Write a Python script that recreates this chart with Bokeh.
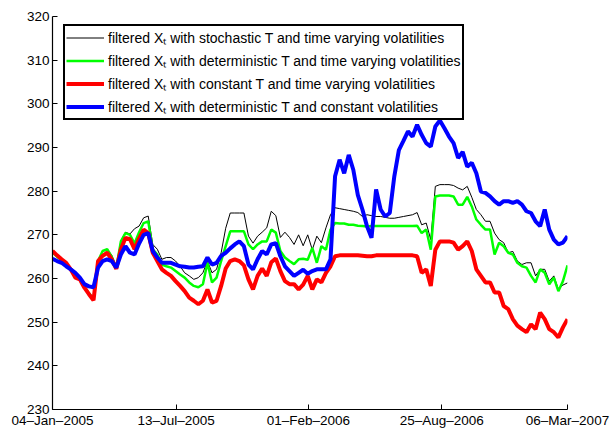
import pandas as pd
from bokeh.plotting import figure
from bokeh.models import Range1d, FixedTicker, Legend, LegendItem, ColumnDataSource
from bokeh.embed import file_html
from bokeh.resources import INLINE

# weekly observation dates (04-Jan-2005 .. 06-Mar-2007)
dates = pd.date_range("2005-01-04", periods=114, freq="7D")

tick_dates = ["2005-01-04", "2005-07-13", "2006-02-01", "2006-08-25", "2007-03-06"]
tick_labels = ["04–Jan–2005", "13–Jul–2005", "01–Feb–2006", "25–Aug–2006", "06–Mar–2007"]
y_ticks = [230, 240, 250, 260, 270, 280, 290, 300, 310, 320]

series_names = [
    "filtered Xₜ with stochastic T and time varying volatilities",
    "filtered Xₜ with deterministic T and time varying volatilities",
    "filtered Xₜ with constant T and time varying volatilities",
    "filtered Xₜ with deterministic T and constant volatilities",
]

stoch_tv = [
    266.0, 265.0, 264.2, 263.2, 262.0, 260.5, 260.0, 258.3, 256.8, 255.6,
    264.0, 266.3, 266.7, 265.3, 262.6, 268.6, 270.6, 270.2, 271.4, 272.0,
    273.9, 274.3, 267.8, 266.7, 264.4, 264.8, 264.8, 264.0, 262.8, 261.3,
    260.6, 259.8, 260.2, 261.3, 264.0, 261.3, 262.1, 265.9, 271.5, 275.0,
    275.0, 275.0, 275.0, 269.7, 268.1, 269.7, 270.6, 271.6, 275.4, 274.4,
    269.4, 270.6, 269.4, 267.8, 270.0, 267.5, 270.0, 266.6, 269.7, 268.2,
    271.6, 274.6, 276.2, 276.0, 275.8, 275.6, 275.4, 275.1, 274.2, 274.6,
    274.4, 274.2, 274.2, 274.0, 273.8, 273.8, 274.0, 274.2, 274.4, 274.6,
    275.1, 272.3, 272.7, 268.9, 281.1, 281.5, 281.5, 281.5, 281.3, 280.7,
    280.3, 281.1, 278.6, 275.8, 274.6, 273.1, 273.1, 270.4, 268.9, 268.2,
    265.9, 266.2, 264.0, 263.2, 263.6, 263.6, 260.6, 262.1, 262.1, 259.4,
    260.6, 257.5, 258.5, 259.0,
]

determ_tv = [
    266.0, 265.0, 264.2, 263.3, 262.0, 260.4, 259.9, 258.1, 256.6, 255.3,
    264.0, 266.3, 266.7, 265.0, 262.4, 268.5, 270.4, 270.0, 268.0, 270.6,
    272.7, 273.1, 266.7, 265.5, 263.2, 262.8, 262.5, 261.7, 260.9, 260.2,
    259.1, 258.3, 258.0, 258.7, 263.6, 259.1, 260.2, 264.0, 267.4, 270.8,
    270.8, 270.8, 270.8, 267.8, 266.7, 267.8, 268.5, 268.5, 271.2, 270.5,
    266.3, 264.8, 264.0, 263.3, 264.4, 264.5, 264.3, 267.0, 263.6, 267.4,
    266.6, 271.2, 272.7, 272.6, 272.6, 272.3, 272.3, 272.1, 272.0, 271.9,
    272.0, 272.0, 272.0, 272.0, 272.0, 272.0, 272.0, 272.0, 272.0, 272.0,
    272.1, 270.4, 271.2, 266.6, 278.8, 279.0, 279.0, 279.0, 278.8, 276.9,
    276.9, 278.7, 276.5, 273.5, 272.3, 271.2, 271.2, 265.5, 268.2, 267.4,
    265.9, 265.5, 263.6, 262.8, 262.5, 260.6, 259.1, 262.1, 261.3, 258.7,
    260.2, 257.1, 259.4, 263.0,
]

const_tv = [
    266.3, 265.3, 264.4, 263.6, 262.1, 260.2, 259.8, 257.9, 256.4, 255.0,
    264.0, 265.2, 265.9, 264.4, 262.2, 266.7, 269.3, 269.0, 266.7, 269.2,
    271.2, 270.4, 265.9, 264.0, 262.1, 261.3, 260.6, 259.4, 258.3, 257.1,
    255.6, 254.9, 254.1, 254.9, 257.5, 254.5, 254.9, 258.3, 262.3, 264.0,
    264.4, 264.0, 263.0, 259.8, 257.5, 260.6, 262.3, 260.6, 263.7, 264.6,
    261.7, 259.4, 258.7, 258.7, 257.5, 258.6, 260.6, 257.5, 259.8, 259.1,
    261.3, 262.8, 265.1, 265.3, 265.3, 265.3, 265.3, 265.3, 265.2, 265.1,
    265.1, 265.3, 265.3, 265.3, 265.3, 265.3, 265.3, 265.3, 265.3, 265.3,
    265.1, 261.3, 262.1, 258.3, 266.6, 268.5, 268.5, 268.5, 268.2, 266.6,
    267.4, 268.5, 266.3, 262.1, 260.6, 259.1, 259.1, 256.8, 256.8, 253.7,
    253.0, 250.7, 249.2, 248.4, 247.7, 249.5, 248.4, 252.2, 250.7, 248.4,
    247.7, 246.5, 248.8, 250.7,
]

determ_const = [
    264.5, 264.0, 263.6, 262.8, 262.1, 261.3, 260.2, 258.7, 258.2, 258.0,
    262.5, 264.0, 264.4, 264.0, 262.5, 265.5, 267.4, 265.9, 265.5, 268.0,
    270.0, 270.4, 266.3, 264.8, 263.6, 263.6, 263.6, 263.2, 262.8, 262.7,
    262.5, 262.5, 262.7, 262.8, 264.8, 263.2, 263.6, 265.2, 265.9, 266.9,
    267.8, 268.5, 267.4, 263.2, 262.1, 264.4, 266.3, 265.5, 267.8, 268.1,
    265.1, 262.8, 261.7, 260.6, 261.3, 262.0, 261.1, 261.7, 262.1, 262.1,
    262.1, 264.4, 283.4, 287.2, 284.1, 288.3, 284.9, 279.1, 275.8, 272.0,
    269.3, 280.4, 275.8, 274.2, 275.0, 283.4, 289.4, 291.5, 293.7, 292.5,
    295.2, 292.9, 291.0, 290.2, 294.8, 296.2, 294.4, 292.5, 291.0, 287.6,
    289.0, 285.6, 286.5, 284.1, 279.9, 279.6, 278.8, 277.7, 276.9, 277.7,
    277.7, 277.3, 277.7, 276.9, 275.4, 275.0, 273.1, 272.0, 275.8, 271.2,
    268.9, 267.8, 268.2, 269.7,
]

colors = ["#000000", "#00ff00", "#ff0000", "#0000ff"]
widths = [1, 2.5, 4, 4]

FONT = "Liberation Sans"

p = figure(
    width=611, height=430,
    x_axis_type="datetime",
    x_range=Range1d(pd.Timestamp(tick_dates[0]), pd.Timestamp(tick_dates[-1])),
    y_range=Range1d(230, 320),
    output_backend="svg", toolbar_location=None,
    min_border_left=52, min_border_right=44, min_border_top=16, min_border_bottom=19,
)
p.outline_line_color = None
p.xgrid.visible = False
p.ygrid.visible = False

src = ColumnDataSource(dict(date=dates, s0=stoch_tv, s1=determ_tv, s2=const_tv, s3=determ_const))
renderers = []
for k in range(4):
    r = p.line("date", f"s{k}", source=src, line_color=colors[k], line_width=widths[k])
    renderers.append(r)

# axes
tick_ms = [pd.Timestamp(d).value // 10**6 for d in tick_dates]
p.xaxis.ticker = FixedTicker(ticks=tick_ms)
p.xaxis.major_label_overrides = {t: lab for t, lab in zip(tick_ms, tick_labels)}
p.yaxis.ticker = FixedTicker(ticks=y_ticks)
for ax in (p.xaxis[0], p.yaxis[0]):
    ax.axis_line_color = "black"
    ax.axis_line_width = 1.2
    ax.major_tick_in = 5
    ax.major_tick_out = 0
    ax.minor_tick_line_color = None
    ax.major_tick_line_color = "black"
    ax.major_label_text_font = FONT
    ax.major_label_text_font_size = "13.5px"
    ax.major_label_text_color = "black"
    ax.major_label_standoff = 3

legend = Legend(
    items=[LegendItem(label=series_names[k], renderers=[renderers[k]]) for k in range(4)],
    location=(11, 289),
    label_text_font=FONT,
    label_text_font_size="14px",
    label_text_color="black",
    border_line_color="black",
    border_line_alpha=1,
    border_line_width=2,
    background_fill_color="white",
    background_fill_alpha=1,
    padding=1,
    spacing=2,
    glyph_width=38,
    glyph_height=21,
    label_height=21,
    label_standoff=4,
    margin=0,
)
p.add_layout(legend, "center")

open("out.html", "w").write(file_html(p, INLINE))
